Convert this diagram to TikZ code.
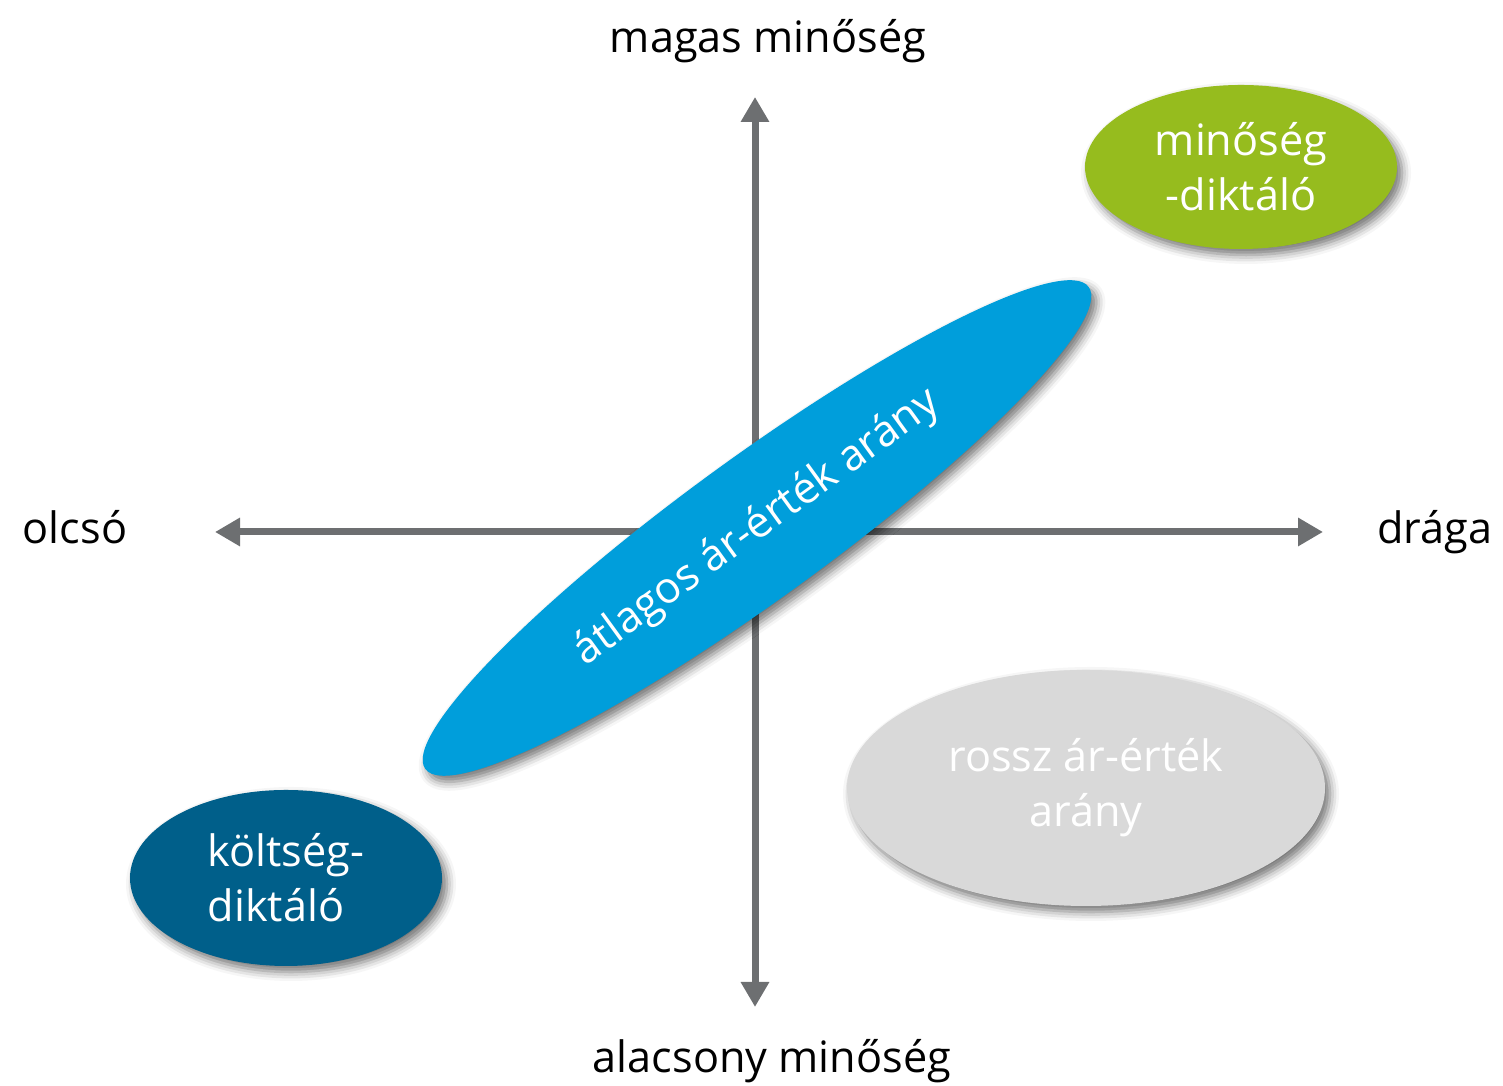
\documentclass[tikz,border=0pt]{standalone}
\usepackage{fontspec}
\setmainfont{Open Sans}
\usetikzlibrary{arrows.meta,shapes.geometric,shadows.blur}
\definecolor{tengely}{RGB}{109,111,113}
\definecolor{zold}{RGB}{150,188,30}
\definecolor{kek}{RGB}{0,158,219}
\definecolor{sotetkek}{RGB}{0,95,138}
\definecolor{szurke}{RGB}{217,217,217}

\begin{document}
\begin{tikzpicture}[line cap=round,line join=round,>={Triangle[length=0.25cm,width=0.27cm]},x=1cm,y=1cm,
  felirat/.style={font=\fontsize{12.3}{15.6}\selectfont,inner sep=0pt},
  folt/.style={ellipse,inner sep=0pt,text=white,align=center,font=\fontsize{12.3}{15.6}\selectfont,
    blur shadow={shadow xshift=0.05cm,shadow yshift=-0.06cm,shadow blur radius=0.09cm,shadow opacity=55}}]

\useasboundingbox (0,0) rectangle (15.03,10.86);

%% tengelyek
\coordinate (fent) at (7.55,9.89);
\coordinate (lent) at (7.55,0.79);
\coordinate (bal) at (2.15,5.54);
\coordinate (jobb) at (13.23,5.54);
\draw [<->,line width=0.07cm,line cap=butt,tengely] (lent) -- (fent);
\draw [<->,line width=0.07cm,line cap=butt,tengely] (bal) -- (jobb);

%% feliratok
\node [felirat,anchor=base] (magas) at (7.68,10.33) {magas minőség};
\node [felirat,anchor=base] (alacsony) at (7.72,0.13) {alacsony minőség};
\node [felirat,anchor=base] (olcso) at (0.75,5.42) {olcsó};
\node [felirat,anchor=base] (draga) at (14.35,5.42) {drága};

%% foltok
\node [folt,fill=kek,rotate=36,minimum width=8.2cm,minimum height=1.42cm] (atlagos) at (7.57,5.58) {átlagos ár-érték arány};
\node [folt,fill=zold,minimum width=3.12cm,minimum height=1.64cm] (minoseg) at (12.41,9.19) {minőség\\-diktáló};
\node [folt,fill=sotetkek,align=left,minimum width=3.12cm,minimum height=1.76cm] (koltseg) at (2.86,2.08) {költség-\\diktáló};
\node [folt,fill=szurke,minimum width=4.78cm,minimum height=2.36cm] (rossz) at (10.86,2.98) {rossz ár-érték\\arány};
%%
\end{tikzpicture}
\end{document}
